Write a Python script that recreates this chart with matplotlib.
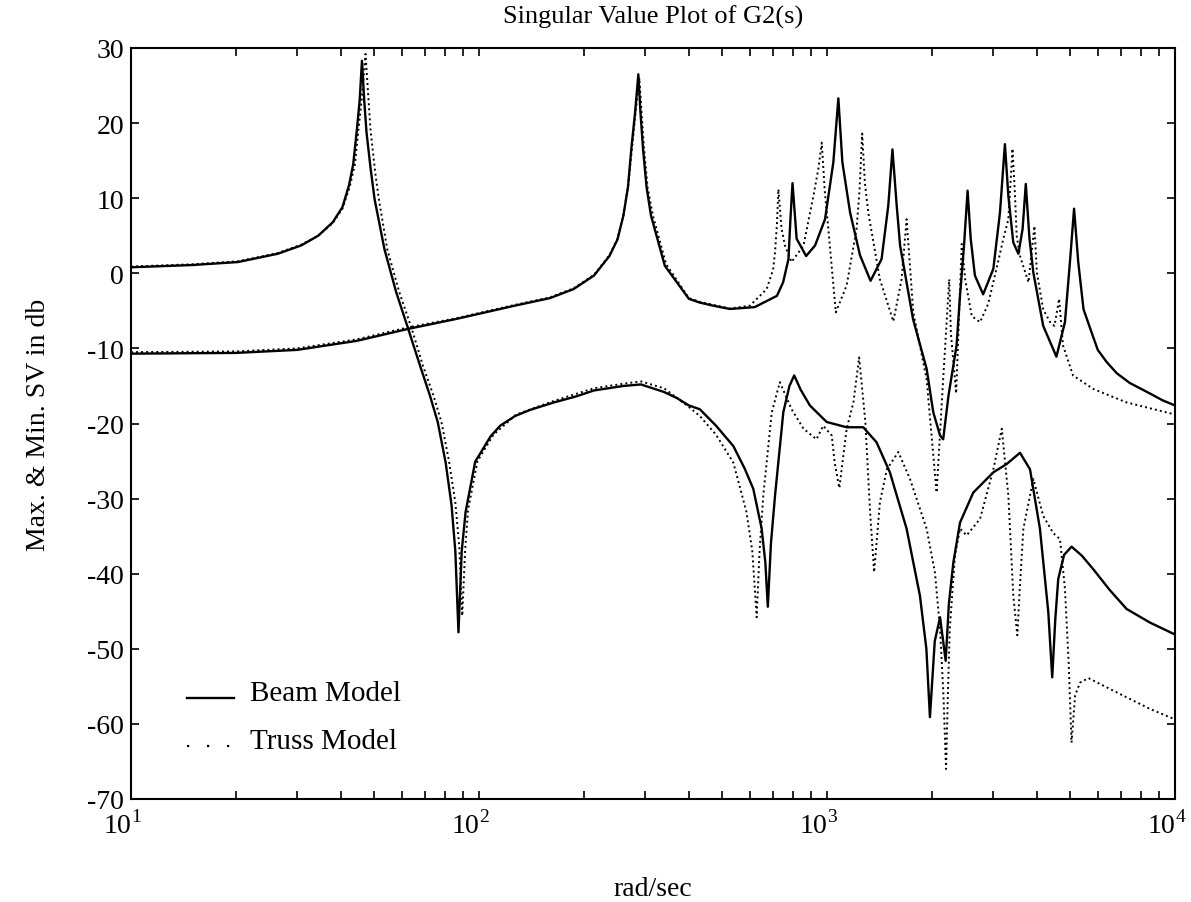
import matplotlib
matplotlib.use('Agg')
import matplotlib.pyplot as plt
from matplotlib.lines import Line2D
from matplotlib.legend_handler import HandlerLine2D
from matplotlib.ticker import FixedLocator, LogLocator, NullLocator, MultipleLocator
from matplotlib.transforms import ScaledTranslation

plt.rcParams['font.family'] = ['Liberation Serif', 'DejaVu Serif']
plt.rcParams['mathtext.fontset'] = 'custom'
plt.rcParams['mathtext.rm'] = 'Liberation Serif'
plt.rcParams['axes.unicode_minus'] = False

# beam model, branch starting near 0 dB (first resonance, then lower SV)
beam_a_f = [10, 15, 20.3, 26.4, 30.8, 34.5, 38, 40.5, 42.3, 43.5, 44.5, 45.4, 46.1,
            46.8, 47.5, 48.8, 50.1, 53.5, 57.8, 62.6, 67.7, 72.3, 76.1, 80.2, 83.4,
            85.5, 87.3, 89.2, 91.5, 97.5, 108, 115, 127, 140, 164, 190, 214, 260, 292,
            340, 370, 401, 431, 480, 538, 580, 614, 649, 665, 676, 690, 709, 749, 780,
            805, 840, 893, 998, 1139, 1271, 1388, 1516, 1693, 1849, 1930, 1976, 2040,
            2113, 2193, 2240, 2307, 2411, 2632, 3006, 3283, 3586, 3831, 4091, 4324,
            4438, 4530, 4618, 4800, 5043, 5400, 5822, 6500, 7262, 8468, 10000]
beam_a_db = [0.8, 1.1, 1.5, 2.6, 3.7, 5.0, 6.8, 8.8, 11.7, 14.5, 18.8, 23.0, 28.3,
             23.0, 18.8, 14.0, 9.9, 3.2, -2.5, -7.4, -12.3, -16.3, -19.8, -25.2, -30.9,
             -37.0, -47.8, -37.0, -31.8, -25.1, -21.7, -20.3, -19.0, -18.2, -17.2, -16.4,
             -15.6, -15.0, -14.8, -15.8, -16.6, -17.6, -18.1, -20.3, -23.0, -26.0, -28.7,
             -34.0, -38.5, -44.4, -36.0, -29.6, -18.5, -15.0, -13.6, -15.5, -17.6, -19.8,
             -20.5, -20.5, -22.5, -26.5, -34.0, -42.9, -50.0, -59.1, -49.0, -45.8, -51.6,
             -44.0, -38.5, -33.2, -29.2, -26.5, -25.4, -23.9, -26.1, -34.0, -45.1, -53.8,
             -46.0, -40.7, -37.5, -36.4, -37.6, -39.4, -42.2, -44.7, -46.5, -48.1]

# beam model, branch starting near -10 dB (upper SV after the crossing)
beam_b_f = [10, 20, 30, 44.5, 62.6, 85.6, 127, 160, 187, 214, 237, 250, 260, 268, 274,
            281, 287, 291, 296, 303, 312, 342, 401, 431, 470, 526, 620, 718, 748, 775,
            785, 796, 818, 871, 924, 987, 1043, 1078, 1107, 1165, 1244, 1334, 1435,
            1500, 1542, 1586, 1622, 1767, 1933, 2020, 2113, 2157, 2234, 2357, 2411,
            2476, 2535, 2588, 2661, 2810, 3006, 3141, 3245, 3320, 3430, 3548, 3648,
            3726, 3818, 3917, 4181, 4563, 4828, 4990, 5128, 5272, 5459, 5822, 6000,
            6358, 6800, 7411, 8468, 9200, 10000]
beam_b_db = [-10.7, -10.6, -10.2, -9.0, -7.4, -6.1, -4.3, -3.3, -2.1, -0.3, 2.3, 4.5,
             7.7, 11.5, 16.6, 21.5, 26.5, 21.5, 16.6, 11.5, 7.7, 1.0, -3.4, -3.9, -4.3,
             -4.75, -4.5, -3.0, -1.2, 1.9, 7.2, 12.0, 4.6, 2.3, 3.7, 7.2, 14.8, 23.3,
             14.8, 8.1, 2.4, -1.0, 1.9, 9.0, 16.5, 9.0, 3.7, -6.1, -12.7, -18.5, -21.6,
             -22.1, -16.3, -9.6, -3.0, 3.7, 11.0, 4.6, -0.3, -2.8, 0.6, 8.1, 17.2, 10.3,
             4.1, 2.6, 5.9, 11.9, 4.6, 0.1, -7.0, -11.1, -6.5, 1.5, 8.6, 1.5, -4.8, -8.5,
             -10.2, -11.8, -13.3, -14.6, -16.0, -16.9, -17.6]

# truss model, same two branches
truss_a_f = [10, 15, 20.3, 26.4, 30.8, 34.5, 38, 40.5, 42.5, 44, 45, 46.1, 47.2, 48,
             48.8, 50.3, 51.5, 54.5, 59, 64, 69, 74, 78, 82, 85.5, 87.8, 89.5, 91.2, 93,
             99, 110, 128, 164, 214, 260, 292, 340, 401, 431, 480, 538, 587, 610, 628,
             640, 656, 694, 732, 791, 856, 933, 975, 1032, 1052, 1085, 1139, 1191, 1237,
             1289, 1330, 1366, 1419, 1486, 1603, 1732, 1933, 2042, 2113, 2160, 2198,
             2225, 2253, 2332, 2411, 2519, 2753, 3006, 3179, 3320, 3430, 3523, 3580,
             3667, 3917, 4181, 4469, 4672, 4828, 4950, 5043, 5164, 5336, 5640, 6798,
             8468, 10000]
truss_a_db = [0.9, 1.2, 1.6, 2.7, 3.8, 5.0, 6.7, 8.6, 11.5, 14.5, 19.0, 23.5, 29.2,
              24.0, 19.0, 13.5, 10.0, 3.2, -2.5, -7.3, -12.3, -16.3, -19.8, -25.0, -30.5,
              -36.5, -45.6, -37.0, -31.5, -25.0, -21.5, -18.8, -17.0, -15.3, -14.7, -14.4,
              -15.3, -17.8, -19.0, -21.5, -25.2, -31.8, -37.0, -45.8, -37.0, -29.6, -18.5,
              -14.5, -18.1, -20.7, -22.1, -20.3, -21.6, -25.2, -28.6, -20.7, -17.2, -11.2,
              -19.8, -31.8, -39.8, -30.5, -26.1, -23.8, -27.4, -34.0, -39.8, -47.4, -56.0,
              -66.0, -56.0, -47.4, -37.6, -34.0, -34.9, -32.7, -26.1, -20.7, -29.6, -42.9,
              -48.2, -42.0, -34.0, -27.4, -32.3, -34.6, -35.4, -42.0, -52.0, -62.5, -56.2,
              -54.5, -53.9, -55.8, -58.0, -59.4]

truss_b_f = [10, 20, 30, 44.5, 62.6, 85.6, 127, 160, 187, 214, 237, 250, 260, 268, 275,
             282, 289, 293, 298, 305, 316, 345, 401, 431, 526, 601, 671, 700, 709, 718,
             725, 740, 757, 791, 856, 914, 945, 966, 985, 1009, 1060, 1139, 1216, 1240,
             1262, 1285, 1314, 1419, 1551, 1638, 1693, 1770, 1933, 2065, 2157, 2245,
             2270, 2350, 2439, 2495, 2606, 2753, 2904, 3069, 3212, 3320, 3413, 3470,
             3508, 3586, 3793, 3945, 4010, 4181, 4375, 4505, 4645, 4766, 5093, 5822,
             7262, 10000]
truss_b_db = [-10.5, -10.4, -10.0, -8.8, -7.2, -6.0, -4.2, -3.2, -2.0, -0.2, 2.4, 4.6,
              7.8, 11.5, 16.5, 21.5, 26.0, 21.5, 16.6, 11.5, 7.7, 1.2, -3.3, -3.8, -4.7,
              -4.3, -2.1, 0.5, 2.8, 6.5, 11.2, 6.0, 3.7, 1.5, 3.7, 10.3, 14.0, 17.4, 11.0,
              5.9, -5.2, -1.6, 5.9, 11.0, 18.6, 12.0, 8.1, -0.8, -6.4, -0.8, 7.2, -5.2,
              -14.1, -29.2, -14.1, -0.8, -8.0, -16.0, 3.9, -0.8, -5.7, -6.5, -4.1, 0.6,
              4.6, 7.2, 16.6, 10.3, 5.0, 2.3, -1.2, 6.3, 0.1, -4.8, -6.5, -7.0, -3.4,
              -9.6, -13.6, -15.4, -17.2, -18.8]

decades = [10, 100, 1000, 10000]
decade_labels = ['$10^{1}$', '$10^{2}$', '$10^{3}$', '$10^{4}$']


class BaselineKey(HandlerLine2D):
    # draw the legend key along the bottom of the text instead of its middle
    def create_artists(self, legend, orig_handle, xdescent, ydescent,
                       width, height, fontsize, trans):
        artists = super().create_artists(legend, orig_handle, xdescent, ydescent,
                                         width, height, fontsize, trans)
        for a in artists:
            a.set_ydata([y - 0.42 * height for y in a.get_ydata()])
        return artists


solid = dict(color='black', lw=1.7, solid_joinstyle='round')
dotted = dict(color='black', lw=1.4, linestyle=(0, (1, 1.6)))

fig = plt.figure(figsize=(11.91, 9.03), dpi=100)
ax = fig.add_axes([131 / 1191, 103 / 903, 1044 / 1191, 751 / 903])

ax.plot(beam_a_f, beam_a_db, **solid)
ax.plot(beam_b_f, beam_b_db, **solid)
ax.plot(truss_a_f, truss_a_db, **dotted)
ax.plot(truss_b_f, truss_b_db, **dotted)

ax.set_xscale('log')
ax.set_xlim(10, 10000)
ax.set_ylim(-70, 30)
ax.yaxis.set_major_locator(MultipleLocator(10))
ax.yaxis.set_minor_locator(NullLocator())
ax.xaxis.set_major_locator(FixedLocator(decades))
ax.xaxis.set_minor_locator(LogLocator(base=10, subs=range(2, 10)))
ax.set_xticklabels(decade_labels)

ax.tick_params(which='both', direction='in', top=True, right=True,
               width=1.2, length=6, labelsize=20)
ax.tick_params(axis='y', pad=5)
ax.tick_params(axis='x', pad=8)
for s in ax.spines.values():
    s.set_linewidth(1.5)

# the mantissa sits on the tick, the exponent hangs to the right
shift = ScaledTranslation(-6 / 72, 0, fig.dpi_scale_trans)
for lbl in ax.get_xticklabels():
    lbl.set_transform(lbl.get_transform() + shift)

ax.set_title('Singular Value Plot of G2(s)', fontsize=19, pad=18)
ax.set_xlabel('rad/sec', fontsize=20, labelpad=27)
ax.set_ylabel('Max. & Min. SV in db', fontsize=20, labelpad=26)

# legend keys: plain line and a few spaced dots
key_beam = Line2D([], [], color='black', lw=1.7)
key_truss = Line2D([], [], color='black', lw=1.6, linestyle=(0, (1, 8)))
ax.legend([key_beam, key_truss], ['Beam Model', 'Truss Model'],
          loc='lower left', bbox_to_anchor=(0.054, 0.06), frameon=False,
          borderaxespad=0, borderpad=0, fontsize=21, handlelength=1.6,
          handletextpad=0.55, labelspacing=0.75,
          handler_map={Line2D: BaselineKey()})

fig.savefig('out.png', dpi=100)
